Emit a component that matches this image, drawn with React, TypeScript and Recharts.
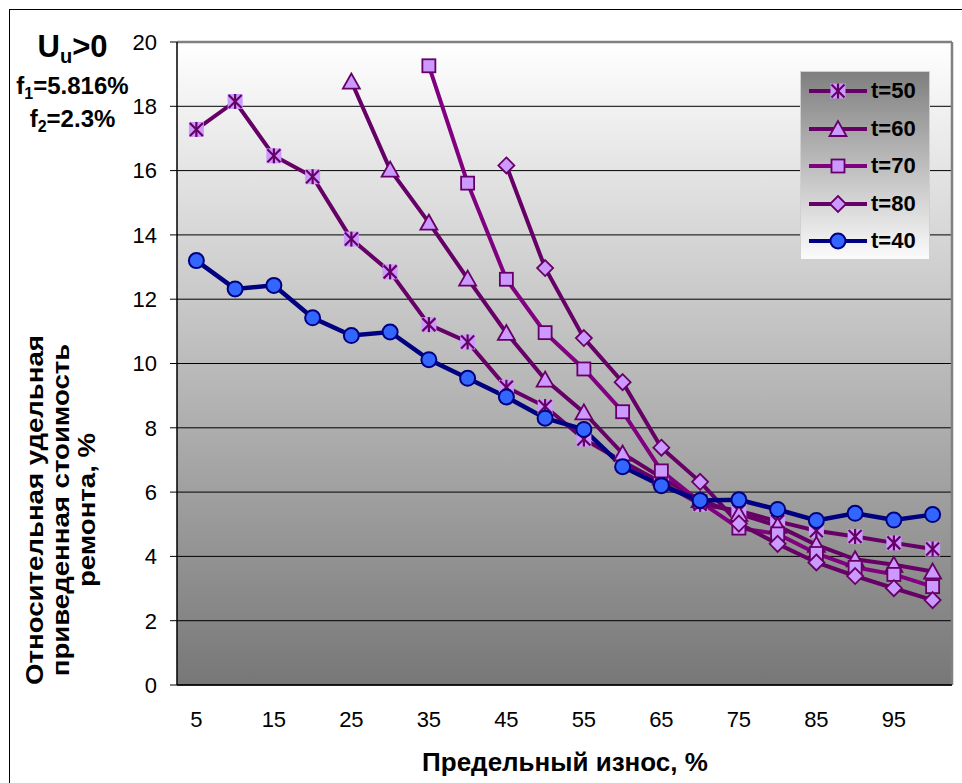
import React from "react";
import { LineChart, Line, XAxis, YAxis, CartesianGrid, ReferenceLine, Legend } from "recharts";

// ---- data ----
const wear = [5, 10, 15, 20, 25, 30, 35, 40, 45, 50, 55, 60, 65, 70, 75, 80, 85, 90, 95, 100];
const t50 = [17.28, 18.15, 16.46, 15.81, 13.87, 12.85, 11.21, 10.67, 9.26, 8.66, 7.65, 6.95, 6.3, 5.62, 5.42, 5.09, 4.8, 4.62, 4.42, 4.23];
const t60 = [null, null, null, null, 18.77, 16.03, 14.38, 12.64, 10.95, 9.5, 8.48, 7.2, 6.45, 5.75, 5.32, 4.95, 4.36, 3.91, 3.74, 3.53];
const t70 = [null, null, null, null, null, null, 19.26, 15.61, 12.62, 10.96, 9.83, 8.5, 6.66, 5.7, 4.88, 4.7, 4.09, 3.66, 3.44, 3.06];
const t80 = [null, null, null, null, null, null, null, null, 16.16, 12.97, 10.79, 9.42, 7.38, 6.32, 5.02, 4.39, 3.81, 3.39, 3.01, 2.64];
const t40 = [13.2, 12.32, 12.43, 11.42, 10.87, 10.98, 10.12, 9.54, 8.96, 8.3, 7.95, 6.79, 6.2, 5.74, 5.76, 5.46, 5.12, 5.34, 5.13, 5.3];
const seriesNames = ["t=50", "t=60", "t=70", "t=80", "t=40"];
const yTicks = [0, 2, 4, 6, 8, 10, 12, 14, 16, 18, 20];
const xLabelTicks = [5, 15, 25, 35, 45, 55, 65, 75, 85, 95];
const xBoundaryTicks = [2.5, 7.5, 12.5, 17.5, 22.5, 27.5, 32.5, 37.5, 42.5, 47.5, 52.5, 57.5, 62.5, 67.5, 72.5, 77.5, 82.5, 87.5, 92.5, 97.5, 102.5];
const xDomain = [2.5, 102.5];
const yDomain = [0, 20];

const xTitle = "Предельный износ, %";
const yTitleLines = ["Относительная удельная", "приведенная стоимость", "ремонта, %"];

const data = wear.map((w, i) => ({
  x: w,
  s50: t50[i],
  s60: t60[i],
  s70: t70[i],
  s80: t80[i],
  s40: t40[i],
}));

const FONT = "'Liberation Sans', Arial, sans-serif";
const MFILL = "#CC99FF";
const MSTROKE = "#660066";

const series = [
  { key: "s50", name: seriesNames[0], line: "#660066", marker: "star" },
  { key: "s60", name: seriesNames[1], line: "#660066", marker: "triangle" },
  { key: "s70", name: seriesNames[2], line: "#800080", marker: "square" },
  { key: "s80", name: seriesNames[3], line: "#660066", marker: "diamond" },
  { key: "s40", name: seriesNames[4], line: "#000080", marker: "circle" },
];

function Marker({ kind, cx, cy }: { kind: string; cx: number; cy: number }) {
  if (kind === "star") {
    return (
      <g>
        <rect x={cx - 7.5} y={cy - 7.5} width={15} height={15} fill={MFILL} />
        <line x1={cx - 6.5} y1={cy - 6.5} x2={cx + 6.5} y2={cy + 6.5} stroke={MSTROKE} strokeWidth={2.2} />
        <line x1={cx + 6.5} y1={cy - 6.5} x2={cx - 6.5} y2={cy + 6.5} stroke={MSTROKE} strokeWidth={2.2} />
        <line x1={cx} y1={cy - 7.5} x2={cx} y2={cy + 7.5} stroke={MSTROKE} strokeWidth={2.2} />
      </g>
    );
  }
  if (kind === "triangle") {
    return (
      <polygon
        points={`${cx},${cy - 8} ${cx - 8.5},${cy + 7} ${cx + 8.5},${cy + 7}`}
        fill={MFILL}
        stroke={MSTROKE}
        strokeWidth={1.8}
      />
    );
  }
  if (kind === "square") {
    return <rect x={cx - 6.5} y={cy - 6.5} width={13} height={13} fill={MFILL} stroke={MSTROKE} strokeWidth={1.8} />;
  }
  if (kind === "diamond") {
    return (
      <polygon
        points={`${cx},${cy - 8} ${cx + 8},${cy} ${cx},${cy + 8} ${cx - 8},${cy}`}
        fill={MFILL}
        stroke={MSTROKE}
        strokeWidth={1.8}
      />
    );
  }
  return <circle cx={cx} cy={cy} r={7.5} fill="#3366FF" stroke="#000080" strokeWidth={2} />;
}

const makeDot = (kind: string) => (props: any) => {
  const { cx, cy, index } = props;
  const k = `${kind}-${index}`;
  if (typeof cx !== "number" || typeof cy !== "number" || !isFinite(cy)) return <g key={k} />;
  return (
    <g key={k}>
      <Marker kind={kind} cx={cx} cy={cy} />
    </g>
  );
};

const LegendBox = () => (
  <div
    style={{
      width: 130,
      height: 189,
      boxSizing: "border-box",
      background: "linear-gradient(#7f7f7f, #fbfbfb)",
      border: "1px solid #d0d0d0",
      position: "relative",
    }}
  >
    {series.map((s, i) => (
      <div
        key={s.key}
        style={{ position: "absolute", left: 6, top: 7 + i * 37.5, height: 24, display: "flex", alignItems: "center" }}
      >
        <svg width={62} height={24} style={{ display: "block" }}>
          <line x1={2} y1={12} x2={60} y2={12} stroke={s.line} strokeWidth={4} />
          <Marker kind={s.marker} cx={31} cy={12} />
        </svg>
        <span style={{ fontFamily: FONT, fontWeight: "bold", fontSize: 22, color: "#000", marginLeft: 2, lineHeight: "24px" }}>
          {s.name}
        </span>
      </div>
    ))}
  </div>
);

export default function App() {
  return (
    <div style={{ position: "absolute", left: 0, top: 0, width: 962, height: 783, background: "#fff", overflow: "hidden" }}>
      <div
        style={{
          position: "absolute",
          left: 9,
          top: 9,
          width: 953,
          height: 774,
          borderLeft: "1.5px solid #000",
          borderTop: "1.5px solid #000",
          boxSizing: "border-box",
        }}
      />
      <div style={{ position: "absolute", left: 0, top: 0 }}>
        <LineChart width={962} height={783} data={data} margin={{ top: 42, right: 10, left: 117, bottom: 58 }}>
          <defs>
            <linearGradient id="plotBg" x1="0" y1="0" x2="0" y2="1">
              <stop offset="0" stopColor="#ffffff" />
              <stop offset="1" stopColor="#777777" />
            </linearGradient>
          </defs>
          <CartesianGrid vertical={false} stroke="#000" strokeWidth={1} fill="url(#plotBg)" fillOpacity={1} />
          <XAxis
            xAxisId="b"
            type="number"
            domain={xDomain}
            ticks={xBoundaryTicks}
            tick={false}
            tickLine={{ stroke: "#000", strokeWidth: 1 }}
            tickSize={7}
            axisLine={false}
            height={0}
            allowDataOverflow
          />
          <XAxis
            dataKey="x"
            type="number"
            domain={xDomain}
            ticks={xLabelTicks}
            interval={0}
            tickLine={false}
            tickSize={7}
            tickMargin={19}
            axisLine={{ stroke: "#000", strokeWidth: 1.5 }}
            tick={{ fill: "#000", fontSize: 22, fontFamily: FONT }}
            height={40}
            allowDataOverflow
          />
          <YAxis
            type="number"
            domain={yDomain}
            ticks={yTicks}
            interval={0}
            width={60}
            tickSize={7}
            tickMargin={13}
            axisLine={{ stroke: "#000", strokeWidth: 1.5 }}
            tickLine={{ stroke: "#000", strokeWidth: 1 }}
            tick={{ fill: "#000", fontSize: 22, fontFamily: FONT }}
            allowDataOverflow
          />
          <ReferenceLine y={20} stroke="#808080" strokeWidth={2.5} />
          <ReferenceLine x={102.5} stroke="#808080" strokeWidth={2.5} />
          {series.map((s) => (
            <Line
              key={s.key}
              type="linear"
              dataKey={s.key}
              name={s.name}
              stroke={s.line}
              strokeWidth={s.key === "s40" ? 4.5 : 4}
              dot={makeDot(s.marker)}
              activeDot={false}
              connectNulls={false}
              isAnimationActive={false}
            />
          ))}
          <Legend
            layout="vertical"
            align="center"
            verticalAlign="middle"
            content={() => <LegendBox />}
            wrapperStyle={{ left: 800, top: 71, width: 130, height: 189 }}
          />
        </LineChart>
      </div>

      {/* title block */}
      <div
        style={{
          position: "absolute",
          left: 0,
          top: 31,
          width: 145,
          textAlign: "center",
          fontFamily: FONT,
          fontWeight: "bold",
          fontSize: 31,
          lineHeight: "31px",
          color: "#000",
          whiteSpace: "nowrap",
        }}
      >
        U<span style={{ fontSize: 20, verticalAlign: "-6px" }}>u</span>&gt;0
      </div>
      <div
        style={{
          position: "absolute",
          left: 0,
          top: 74,
          width: 145,
          textAlign: "center",
          fontFamily: FONT,
          fontWeight: "bold",
          fontSize: 24,
          lineHeight: "24px",
          color: "#000",
          whiteSpace: "nowrap",
        }}
      >
        f<span style={{ fontSize: 16, verticalAlign: "-5px" }}>1</span>=5.816%
      </div>
      <div
        style={{
          position: "absolute",
          left: 0,
          top: 107,
          width: 145,
          textAlign: "center",
          fontFamily: FONT,
          fontWeight: "bold",
          fontSize: 24,
          lineHeight: "24px",
          color: "#000",
          whiteSpace: "nowrap",
        }}
      >
        f<span style={{ fontSize: 16, verticalAlign: "-5px" }}>2</span>=2.3%
      </div>

      {/* y axis title */}
      <div
        style={{
          position: "absolute",
          left: 61 - 230,
          top: 510 - 39,
          width: 460,
          height: 78,
          transform: "rotate(-90deg) scaleX(1.15)",
          transformOrigin: "50% 50%",
          textAlign: "center",
          fontFamily: FONT,
          fontWeight: "bold",
          fontSize: 24,
          lineHeight: "26px",
          color: "#000",
          whiteSpace: "nowrap",
        }}
      >
        {yTitleLines.map((l) => (
          <div key={l}>{l}</div>
        ))}
      </div>

      {/* x axis title */}
      <div
        style={{
          position: "absolute",
          left: 315,
          top: 747,
          width: 500,
          textAlign: "center",
          fontFamily: FONT,
          fontWeight: "bold",
          fontSize: 26,
          lineHeight: "30px",
          color: "#000",
          whiteSpace: "nowrap",
        }}
      >
        {xTitle}
      </div>
    </div>
  );
}
